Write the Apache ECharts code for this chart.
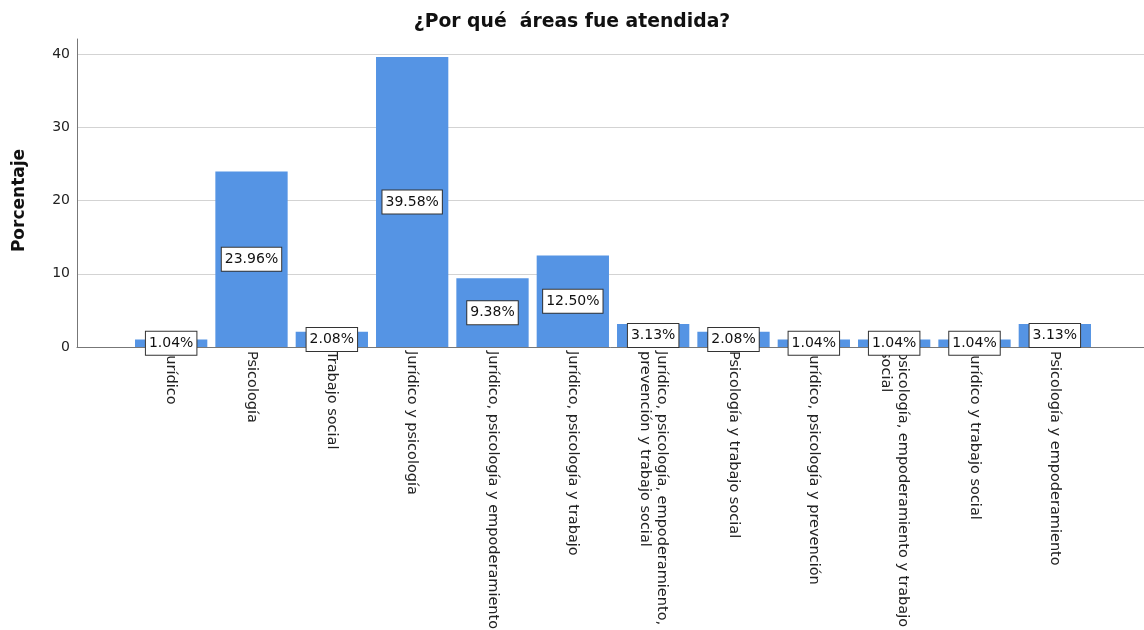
<!DOCTYPE html>
<html>
<head>
<meta charset="utf-8">
<script src="https://cdn.jsdelivr.net/npm/echarts@6/dist/echarts.min.js"></script>
<style>
html, body { margin: 0; padding: 0; background: #fff; }
#chart { width: 1144px; height: 630px; }
</style>
</head>
<body>
<div id="chart"></div>
<script>
// Áreas de atención y porcentaje de casos
const categories = [
  'Jurídico',
  'Psicología',
  'Trabajo social',
  'Jurídico y psicología',
  'Jurídico, psicología y empoderamiento',
  'Jurídico, psicología y trabajo',
  'Jurídico, psicología, empoderamiento,\nprevención y trabajo social',
  'Psicología y trabajo social',
  'Jurídico, psicología y prevención',
  'psicología, empoderamiento y trabajo\nsocial',
  'Jurídico y trabajo social',
  'Psicología y empoderamiento'
];
const percentages = [1.04, 23.96, 2.08, 39.58, 9.38, 12.50, 3.13, 2.08, 1.04, 1.04, 1.04, 3.13];
const yTicks = { min: 0, max: 40, step: 10, frameMax: 42 };

const FONT = 'DejaVu Sans';
const TEXT = '#222';

const chart = echarts.init(document.getElementById('chart'), null, { renderer: 'canvas' });

const option = {
  animation: false,
  backgroundColor: '#fff',
  title: {
    text: '¿Por qué  áreas fue atendida?',
    left: 'center',
    top: 8,
    textStyle: { fontFamily: FONT, fontSize: 18.8, fontWeight: 'bold', color: '#111' }
  },
  grid: [
    // 0: ticks, gridlines and baseline
    { left: 77, right: 0, top: 54, bottom: 283, outerBoundsMode: 'none' },
    // 1: vertical axis line reaching above the last tick
    { left: 77, right: 0, top: 39, bottom: 283, outerBoundsMode: 'none' },
    // 2: bars
    { left: 131, right: 49, top: 54, bottom: 283, outerBoundsMode: 'none' }
  ],
  xAxis: [
    {
      gridIndex: 0, type: 'value', min: 0, max: 1,
      axisLine: { show: true, onZero: false, lineStyle: { color: '#777', width: 1 } },
      axisTick: { show: false }, axisLabel: { show: false }, splitLine: { show: false }
    },
    {
      gridIndex: 1, type: 'value', min: 0, max: 1, show: false
    },
    {
      gridIndex: 2, type: 'category', data: categories,
      axisLine: { show: false }, axisTick: { show: false },
      axisLabel: {
        interval: 0, rotate: -90, margin: 4,
        fontFamily: FONT, fontSize: 14.5, color: TEXT, lineHeight: 17
      }
    }
  ],
  yAxis: [
    {
      gridIndex: 0, type: 'value', min: yTicks.min, max: yTicks.max, interval: yTicks.step,
      name: 'Porcentaje', nameLocation: 'middle', nameRotate: 90, nameGap: 49,
      nameTextStyle: { fontFamily: FONT, fontSize: 17, fontWeight: 'bold', color: '#111' },
      axisLine: { show: false }, axisTick: { show: false },
      axisLabel: { margin: 7, fontFamily: FONT, fontSize: 14, color: TEXT },
      splitLine: { show: true, lineStyle: { color: '#d3d3d3', width: 1.2 } }
    },
    {
      gridIndex: 1, type: 'value', min: yTicks.min, max: yTicks.frameMax,
      axisLine: { show: true, lineStyle: { color: '#777', width: 1 } },
      axisTick: { show: false }, axisLabel: { show: false }, splitLine: { show: false }
    },
    {
      gridIndex: 2, type: 'value', min: yTicks.min, max: yTicks.max, show: false
    }
  ],
  series: [
    {
      type: 'bar',
      xAxisIndex: 2, yAxisIndex: 2,
      data: percentages,
      barCategoryGap: '10%',
      itemStyle: { color: '#5594e4' },
      label: {
        show: true,
        position: 'inside',
        formatter: (p) => p.value.toFixed(2) + '%',
        fontFamily: FONT, fontSize: 14, color: '#111',
        backgroundColor: '#fff',
        borderColor: '#333', borderWidth: 1,
        padding: [5, 3, 4, 3]
      }
    }
  ]
};

chart.setOption(option);
</script>
</body>
</html>
